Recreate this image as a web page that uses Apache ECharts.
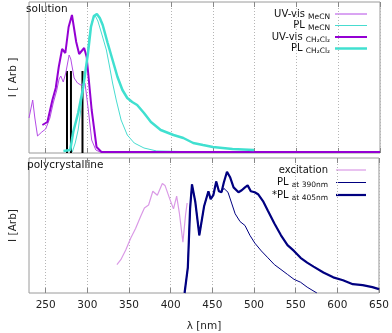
<!DOCTYPE html>
<html>
<head>
<meta charset="utf-8">
<script src="https://cdn.jsdelivr.net/npm/echarts@6/dist/echarts.min.js"></script>
<style>
  html, body { margin: 0; padding: 0; background: #fff; }
  #chart { width: 392px; height: 333px; }
</style>
</head>
<body>
<div id="chart"></div>
<script>
// Wavelength ticks (nm)
const xTicks = [250, 300, 350, 400, 450, 500, 550, 600, 650];

// ---- Solution spectra ----
const uvMeCN_nm = [230, 234.4, 237, 240.2, 245.3, 250, 255, 259, 263, 266, 268, 271, 274, 278, 280, 284, 288, 292, 297, 301, 305, 310, 315, 400];
const uvMeCN_I  = [35, 53, 35, 17, 21, 24, 35, 50, 62, 74, 77, 71, 80, 98, 94, 75, 70, 68, 70, 43, 13, 3, 1, 0.5];

const plMeCN_nm = [281.8, 285.3, 288.8, 291.2, 293.5, 295.9, 299.4, 301.8, 305.3, 308.8, 312.4, 316.7, 322.6, 326.5, 330, 334.4, 340.2, 347.6, 355.9, 367.6, 382.9, 440];
const plMeCN_I  = [1, 10, 23, 38, 56, 70, 93, 116, 131, 138, 132, 120, 103, 86, 70, 53, 33, 18, 10, 5, 2, 1];

const uvDCM_nm = [246, 252, 258, 262, 265.6, 269.6, 273.5, 277.4, 281.4, 286.5, 290, 296, 299, 305, 310.8, 316.7, 650];
const uvDCM_I  = [28, 31, 53, 65, 86, 104, 100, 126, 138, 111, 99, 105, 96, 43, 6, 1, 1];

const plDCM_nm = [271.2, 279.4, 282.9, 288.8, 294.7, 300.6, 304.1, 307.6, 311.2, 314.7, 318.2, 324.1, 330, 335.9, 341.8, 347.6, 353.5, 359.4, 367.6, 375.9, 387.6, 402.9, 414.7, 426.5, 438.2, 450, 473.5, 499.4];
const plDCM_I  = [2, 3, 21, 40, 65, 100, 126, 137, 139, 135, 128, 110, 93, 76, 63, 55, 51, 48, 40, 31, 23, 18, 15, 10, 8, 6, 4, 3];

// Computed transitions (sticks)
const stick_nm = [275.5, 280.2, 294];
const stick_I  = [82, 82, 82];

// ---- Polycrystalline spectra ----
const exc_nm = [335.5, 340.2, 346.1, 352, 357.9, 363.8, 368.5, 373.5, 378.6, 384, 390, 393.2, 395, 399, 403.4, 407.2, 410.4, 414.7, 417.9, 419.8];
const exc_I  = [29, 34, 44, 56, 66, 78, 87, 90, 104, 100, 112, 110, 112, 96, 86, 99, 82, 52, 80, 92];

const pl390_nm = [416.7, 420.6, 423.3, 425.6, 429.6, 434.4, 440.2, 445.3, 448, 451.2, 454.7, 457.9, 461, 463.8, 465.6, 468.8, 473.5, 477.4, 483.3, 489.2, 495.1, 501, 508.8, 516.7, 524.5, 532.4, 540.2, 548, 555.9, 563.8, 569.6, 575.5];
const pl390_I  = [0, 26, 86, 111, 93, 59, 89, 104, 96, 100, 114, 104, 103, 107, 107, 103, 91, 81, 73, 69, 59, 51, 43, 36, 29, 24, 19, 14, 11, 6, 3, 0];

const pl405_nm = [416.7, 420.6, 423.3, 425.6, 429.6, 434.4, 440.2, 445.3, 448, 451.2, 454.7, 457.9, 461, 463.8, 467.6, 471.5, 475.5, 481.4, 485.3, 489.2, 492.4, 496.2, 500.9, 504.9, 510.8, 516.7, 524.5, 532.4, 540.2, 548, 555.9, 563.8, 571.5, 583.3, 595.1, 606.8, 618.6, 630.4, 642.1, 650];
const pl405_I  = [0, 26, 86, 111, 93, 59, 89, 104, 96, 100, 114, 104, 103, 113, 124, 118, 108, 103, 105, 108, 110, 104, 103, 101, 94, 84, 71, 59, 49, 43, 36, 31, 27, 21, 16, 13, 9, 8, 6, 4];

// Legend labels (main text + subscript)
const topKeys   = ['UV-vis MeCN', 'PL MeCN', 'UV-vis CH2Cl2', 'PL CH2Cl2'];
const topMain   = ['UV-vis', 'PL', 'UV-vis', 'PL'];
const topSub    = ['MeCN', 'MeCN', 'CH₂Cl₂', 'CH₂Cl₂'];
const botKeys   = ['excitation', 'PL 390', 'PL 405'];
const botMain   = ['excitation', 'PL', '*PL'];
const botSub    = ['', 'at 390nm', 'at 405nm'];

const zip = (xs, ys) => xs.map((x, i) => [x, ys[i]]);

const FONT = 'DejaVu Sans';
const frameColor = '#9a9a9a';

// Line styles per series
const styles = {
  'UV-vis MeCN':   { color: '#b44be6', width: 1 },
  'PL MeCN':       { color: '#48dcd0', width: 1 },
  'UV-vis CH2Cl2': { color: '#9400d3', width: 2 },
  'PL CH2Cl2':     { color: '#40e0d0', width: 2.5 },
  'excitation':    { color: '#da9ae6', width: 1.2 },
  'PL 390':        { color: '#000080', width: 1 },
  'PL 405':        { color: '#000080', width: 2.2 }
};

const richStyles = {
  m: { fontFamily: FONT, fontSize: 10, fill: '#111', lineHeight: 14, verticalAlign: 'middle' },
  s: { fontFamily: FONT, fontSize: 7.5, fill: '#111', lineHeight: 6, verticalAlign: 'bottom' }
};

function legendBlock(keys, mains, subs, textRight, lineX1, lineX2, rowYs) {
  const out = [];
  keys.forEach((k, i) => {
    const txt = subs[i] ? '{m|' + mains[i] + '} {s|' + subs[i] + '}' : '{m|' + mains[i] + '}';
    out.push({
      type: 'text', x: textRight, y: rowYs[i], silent: true,
      style: { text: txt, align: 'right', verticalAlign: 'middle', rich: richStyles, fontFamily: FONT, fontSize: 10 }
    });
    out.push({
      type: 'line', silent: true,
      shape: { x1: lineX1, y1: rowYs[i], x2: lineX2, y2: rowYs[i] },
      style: { stroke: styles[k].color, lineWidth: styles[k].width }
    });
  });
  return out;
}

function xAxisCfg(gridIndex, position, showLabels) {
  return {
    type: 'value', gridIndex, position, min: 230, max: 650,
    axisLine: { show: false },
    axisTick: { show: true, inside: true, length: 5, customValues: xTicks, lineStyle: { color: '#888' } },
    axisLabel: showLabels
      ? { show: true, customValues: xTicks, fontFamily: FONT, fontSize: 10.5, color: '#222', margin: 7 }
      : { show: false },
    splitLine: position === 'bottom'
      ? { show: true, lineStyle: { color: '#b5b5b5', type: [1, 2], width: 1 } }
      : { show: false },
    name: showLabels ? 'λ [nm]' : '',
    nameLocation: 'middle', nameGap: 28,
    nameTextStyle: { fontFamily: FONT, fontSize: 10.5, color: '#222' }
  };
}

function yAxisCfg(gridIndex, max, name) {
  return {
    type: 'value', gridIndex, min: 0, max,
    axisLine: { show: false }, axisTick: { show: false }, axisLabel: { show: false },
    splitLine: { show: false },
    name, nameLocation: 'middle', nameRotate: 90, nameGap: 10,
    nameTextStyle: { fontFamily: FONT, fontSize: 10.5, color: '#222' }
  };
}

function line(name, xs, ys, axis) {
  const s = styles[name];
  return {
    name, type: 'line', data: zip(xs, ys),
    xAxisIndex: axis, yAxisIndex: axis === 0 ? 0 : 1,
    showSymbol: false, symbol: 'none', smooth: false,
    lineStyle: { color: s.color, width: s.width }, itemStyle: { color: s.color },
    animation: false, clip: true
  };
}

const chart = echarts.init(document.getElementById('chart'), null, { renderer: 'canvas' });

chart.setOption({
  backgroundColor: '#fff',
  animation: false,
  grid: [
    { left: 23, right: 12, top: 2, height: 151, show: true, borderColor: frameColor, borderWidth: 1, backgroundColor: 'transparent' },
    { left: 23, right: 12, top: 158, height: 138, show: true, borderColor: frameColor, borderWidth: 1, backgroundColor: 'transparent' }
  ],
  xAxis: [
    xAxisCfg(0, 'bottom', false),
    xAxisCfg(1, 'bottom', true),
    xAxisCfg(0, 'top', false),
    xAxisCfg(1, 'top', false)
  ],
  yAxis: [
    yAxisCfg(0, 151, 'I [ Arb ]'),
    yAxisCfg(1, 138, 'I [Arb]')
  ],
  graphic: [
    { type: 'text', left: 26, top: 4, silent: true, style: { text: 'solution', fontFamily: FONT, fontSize: 10.5, fill: '#111' } },
    { type: 'text', left: 27, top: 160, silent: true, style: { text: 'polycrystalline', fontFamily: FONT, fontSize: 10.5, fill: '#111' } }
  ]
    .concat(legendBlock(topKeys, topMain, topSub, 330, 335, 367, [14, 25.5, 37, 48.5]))
    .concat(legendBlock(botKeys, botMain, botSub, 328, 336, 366, [170, 182.5, 195])),
  series: [
    {
      name: 'sticks', type: 'bar', xAxisIndex: 0, yAxisIndex: 0,
      data: zip(stick_nm, stick_I), barWidth: 2,
      itemStyle: { color: '#000' }, animation: false, z: 3
    },
    line('UV-vis MeCN', uvMeCN_nm, uvMeCN_I, 0),
    line('PL MeCN', plMeCN_nm, plMeCN_I, 0),
    line('UV-vis CH2Cl2', uvDCM_nm, uvDCM_I, 0),
    line('PL CH2Cl2', plDCM_nm, plDCM_I, 0),
    line('excitation', exc_nm, exc_I, 1),
    line('PL 390', pl390_nm, pl390_I, 1),
    line('PL 405', pl405_nm, pl405_I, 1)
  ]
});
</script>
</body>
</html>
